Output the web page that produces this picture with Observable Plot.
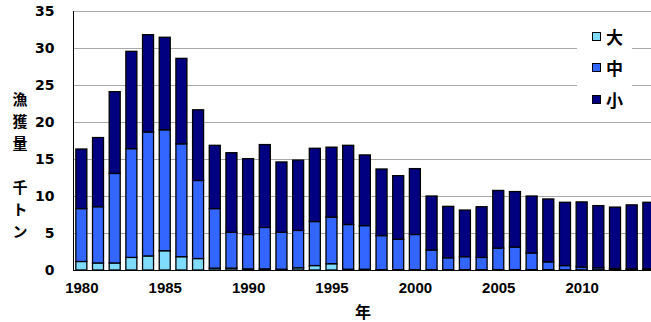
<!DOCTYPE html>
<html>
<head>
<meta charset="utf-8">
<script src="https://cdn.jsdelivr.net/npm/d3@7"></script>
<script src="https://cdn.jsdelivr.net/npm/@observablehq/plot@0.6"></script>
<style>
  body { margin: 0; background: #fff; }
  #chart { position: relative; width: 651px; height: 322px; overflow: hidden; background: #fff; }
  .ych { position: absolute; left: 9px; width: 22px; height: 22px; text-align: center;
         font: bold 15px "Noto Sans CJK JP", sans-serif; line-height: 22px; color: #000; }
  .xlab { position: absolute; left: 354px; top: 299px; width: 18px; text-align: center;
          font: bold 16px "Noto Sans CJK JP", sans-serif; color: #000; }
  .legend { position: absolute; left: 577px; top: 20px; width: 55px; height: 92px; background: #fff; }
  .legend .item { position: absolute; left: 15px; height: 20px; display: flex; align-items: center;
                  font: bold 17px "Noto Sans CJK JP", sans-serif; color: #000; }
  .legend .sw { width: 7px; height: 7px; border: 1px solid #000; margin-right: 5px; }
</style>
</head>
<body>
<div id="chart"></div>
<script>
// Catch by size class (thousand tonnes), 1980–2014
const years  = d3.range(1980, 2015);
const sizes  = ["大", "中", "小"];
const colors = ["#80dcff", "#3366ff", "#000080"];

const large = [1.15, 0.95, 0.95, 1.7, 1.9, 2.6, 1.8, 1.55, 0.25, 0.25,
               0.15, 0.15, 0.1, 0.3, 0.6, 0.85, 0.1, 0.1, 0.05, 0.05,
               0.05, 0.05, 0.05, 0.05, 0.05, 0.05, 0.05, 0.05, 0.05, 0.02,
               0.02, 0.02, 0.02, 0.02, 0.02];
const medium = [7.15, 7.6, 12.1, 14.7, 16.75, 16.35, 15.25, 10.55, 8.05, 4.85,
                4.65, 5.6, 5.0, 5.05, 5.95, 6.3, 6.05, 5.9, 4.6, 4.1,
                4.75, 2.65, 1.6, 1.75, 1.65, 2.9, 3.05, 2.25, 1.05, 0.58,
                0.38, 0.28, 0.18, 0.13, 0.13];
const small = [8.05, 9.35, 11.05, 13.15, 13.15, 12.5, 11.55, 9.55, 8.55, 10.75,
               10.25, 11.2, 9.5, 9.5, 9.9, 9.45, 10.7, 9.55, 9.0, 8.6,
               8.9, 7.3, 6.95, 6.3, 6.85, 7.8, 7.5, 7.7, 8.5, 8.55,
               8.8, 8.4, 8.3, 8.65, 9.0];

const yTicks = [0, 5, 10, 15, 20, 25, 30, 35];
const xTicks = years.filter(y => y % 5 === 0);
const yTitle = [["漁", "獲", "量"], ["千", "ト", "ン"]];
const xTitle = "年";

const series = [large, medium, small];
const rows = years.flatMap((year, i) =>
  sizes.map((size, k) => ({year, size, value: series[k][i]}))
);

const chart = Plot.plot({
  width: 651,
  height: 322,
  marginLeft: 73,
  marginTop: 11,
  marginBottom: 52,
  marginRight: 0,
  // the band range runs past the right edge, so the last bar is cut off
  x: {type: "band", domain: years, range: [73, 656.7], round: false,
      paddingInner: 0.34, paddingOuter: 0.17, label: null},
  y: {domain: [0, 35], label: null},
  color: {domain: sizes, range: colors},
  style: {background: "transparent", color: "#000"},
  marks: [
    Plot.gridY(yTicks, {stroke: "#a8a8a8", strokeOpacity: 1, strokeWidth: 1}),
    Plot.barY(rows, {x: "year", y: "value", fill: "size", order: sizes, stroke: "#000", strokeWidth: 1.3}),
    Plot.ruleY([0], {stroke: "#000", strokeWidth: 1}),
    Plot.frame({anchor: "left", stroke: "#000"}),
    Plot.axisY(yTicks, {tickSize: 0, tickPadding: 19, fontSize: 14, fontWeight: "bold",
                        fontFamily: "DejaVu Sans", label: null}),
    Plot.axisX(xTicks, {tickSize: 0, tickPadding: 12, fontSize: 15, fontWeight: "bold",
                        fontFamily: "Liberation Sans", tickFormat: d => String(d), label: null})
  ]
});

const root = document.getElementById("chart");
root.appendChild(chart);

// axis titles, one character per line
const yTops = [[88, 110, 132], [176, 198, 220]];
yTitle.forEach((group, g) => group.forEach((ch, j) => {
  const d = document.createElement("div");
  d.className = "ych";
  d.style.top = yTops[g][j] + "px";
  d.textContent = ch;
  root.appendChild(d);
}));
const xl = document.createElement("div");
xl.className = "xlab"; xl.textContent = xTitle;
root.appendChild(xl);

// legend
const lg = document.createElement("div");
lg.className = "legend";
sizes.forEach((s, i) => {
  const it = document.createElement("div");
  it.className = "item";
  it.style.top = (6 + i * 31.5) + "px";
  const sw = document.createElement("span");
  sw.className = "sw"; sw.style.background = colors[i];
  const tx = document.createElement("span");
  tx.textContent = s;
  it.append(sw, tx);
  lg.appendChild(it);
});
root.appendChild(lg);
</script>
</body>
</html>
